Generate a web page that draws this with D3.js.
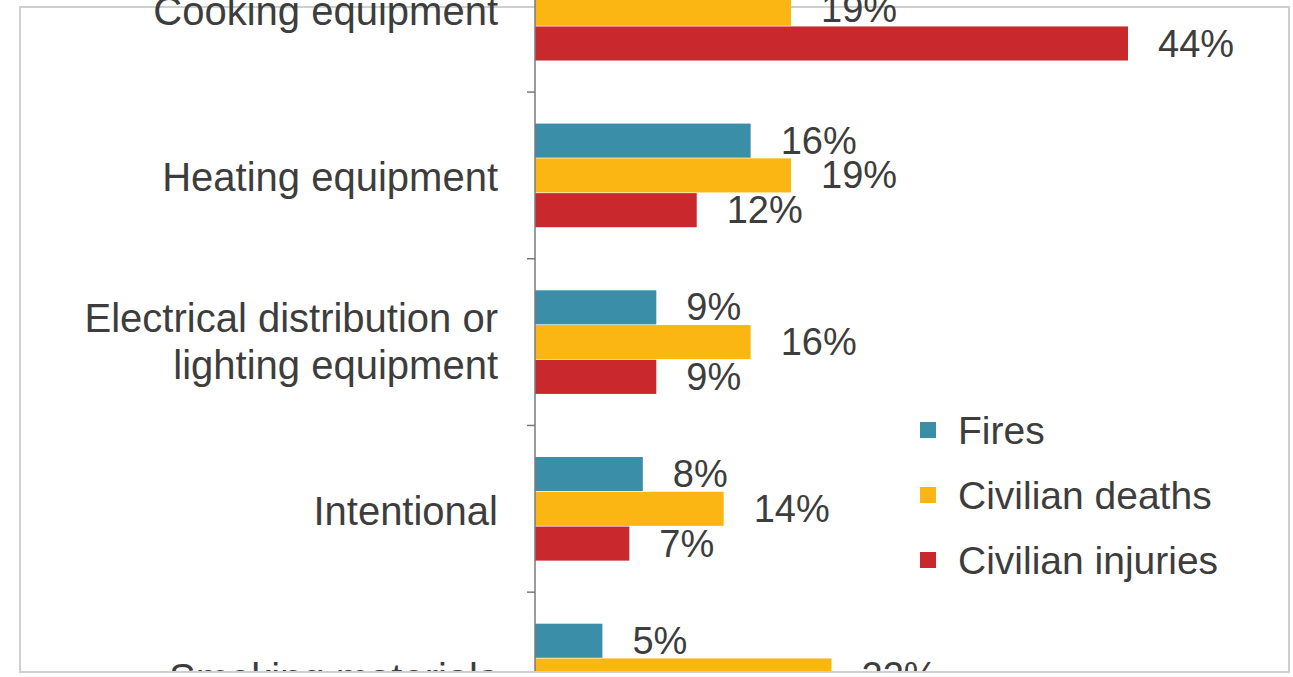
<!DOCTYPE html>
<html>
<head>
<meta charset="utf-8">
<script src="https://cdn.jsdelivr.net/npm/d3@7"></script>
<style>
  html, body { margin: 0; padding: 0; background: #ffffff; }
  svg { display: block; }
  text { font-family: "Liberation Sans", Arial, sans-serif; }
</style>
</head>
<body>
<svg id="chart" width="1293" height="677"></svg>
<script>
// ---- data ----
const categories = ["Cooking equipment", "Heating equipment", "Electrical distribution or\nlighting equipment", "Intentional", "Smoking materials"];
const seriesNames = ["Fires", "Civilian deaths", "Civilian injuries"];
const fires = [46, 16, 9, 8, 5];
const civilianDeaths = [19, 19, 16, 14, 22];
const civilianInjuries = [44, 12, 9, 7, 10];
const seriesColors = ["#3a8ea8", "#fcb614", "#c9282c"];

const seriesValues = [fires, civilianDeaths, civilianInjuries];
const rows = categories.map((c, i) => ({ cat: c, vals: seriesValues.map((s, k) => ({ key: seriesNames[k], k, v: s[i] })) }));

const svg = d3.select("#chart");
const W = 1293, H = 677;

// frame
svg.append("rect").attr("x", 20).attr("y", 7).attr("width", 1269).attr("height", 665)
  .attr("fill", "#ffffff").attr("stroke", "#cfcfcf").attr("stroke-width", 2);

const axisX = 535;
const x = d3.scaleLinear().domain([0, 44]).range([axisX, 1128]);
const step = 166.7;
const y = d3.scaleBand().domain(categories).range([8.7 - step / 2, 8.7 - step / 2 + step * categories.length]).paddingInner(0.37).paddingOuter(0.185);
const ySub = d3.scaleBand().domain(seriesNames).range([0, y.bandwidth()]).padding(0.02);

const g = svg.append("g");

// bars
const groups = g.selectAll("g.cat").data(rows).join("g")
  .attr("class", "cat")
  .attr("transform", d => `translate(0,${y(d.cat)})`);

groups.selectAll("rect").data(d => d.vals).join("rect")
  .attr("x", x(0))
  .attr("y", d => ySub(d.key))
  .attr("width", d => x(d.v) - x(0))
  .attr("height", ySub.bandwidth())
  .attr("fill", d => seriesColors[d.k]);

groups.selectAll("text.val").data(d => d.vals).join("text")
  .attr("class", "val")
  .attr("x", d => x(d.v) + 30)
  .attr("y", d => ySub(d.key) + ySub.bandwidth() / 2 + 3)
  .attr("dominant-baseline", "middle")
  .attr("font-size", 38)
  .attr("fill", "#3d3d3d")
  .text(d => d.v + "%");

// y axis
const yAxis = d3.axisLeft(y).tickSize(0).tickFormat("");
const ax = svg.append("g").attr("transform", `translate(${axisX},0)`).call(yAxis);
ax.select(".domain").attr("stroke", "#7a7a7a").attr("stroke-width", 1.5).attr("d", `M0,0V${H}`);
// tick marks between categories
const bounds = categories.slice(1).map(c => y(c) - (y.step() - y.bandwidth()) / 2);
ax.selectAll("line.tk").data(bounds).join("line").attr("class", "tk")
  .attr("x1", -8).attr("x2", 0).attr("y1", d => d).attr("y2", d => d)
  .attr("stroke", "#7a7a7a").attr("stroke-width", 1.5);

// category labels
svg.append("g").selectAll("text.cat").data(categories).join("text")
  .attr("class", "cat")
  .attr("text-anchor", "end")
  .attr("font-size", 40)
  .attr("fill", "#3d3d3d")
  .each(function (d) {
    const lines = d.split("\n");
    const cy = y(d) + y.bandwidth() / 2;
    const lh = 47;
    const t = d3.select(this);
    lines.forEach((ln, i) => {
      t.append("tspan").attr("x", 498)
        .attr("y", cy + (i - (lines.length - 1) / 2) * lh + (lines.length > 1 ? 13 : 16))
        .text(ln);
    });
  });

// legend
const leg = svg.append("g").attr("transform", "translate(920,430)");
const li = leg.selectAll("g").data(seriesNames).join("g").attr("transform", (d, i) => `translate(0,${i * 65})`);
li.append("rect").attr("x", 0).attr("y", -8).attr("width", 16).attr("height", 16).attr("fill", (d, i) => seriesColors[i]);
li.append("text").attr("x", 38).attr("y", 14).attr("font-size", 39).attr("fill", "#3d3d3d").text(d => d);

// bottom frame line on top
svg.append("line").attr("x1", 20).attr("x2", 1289).attr("y1", 672).attr("y2", 672).attr("stroke", "#cfcfcf").attr("stroke-width", 2);
svg.append("rect").attr("x", 0).attr("y", 673).attr("width", W).attr("height", 4).attr("fill", "#ffffff");
</script>
</body>
</html>
